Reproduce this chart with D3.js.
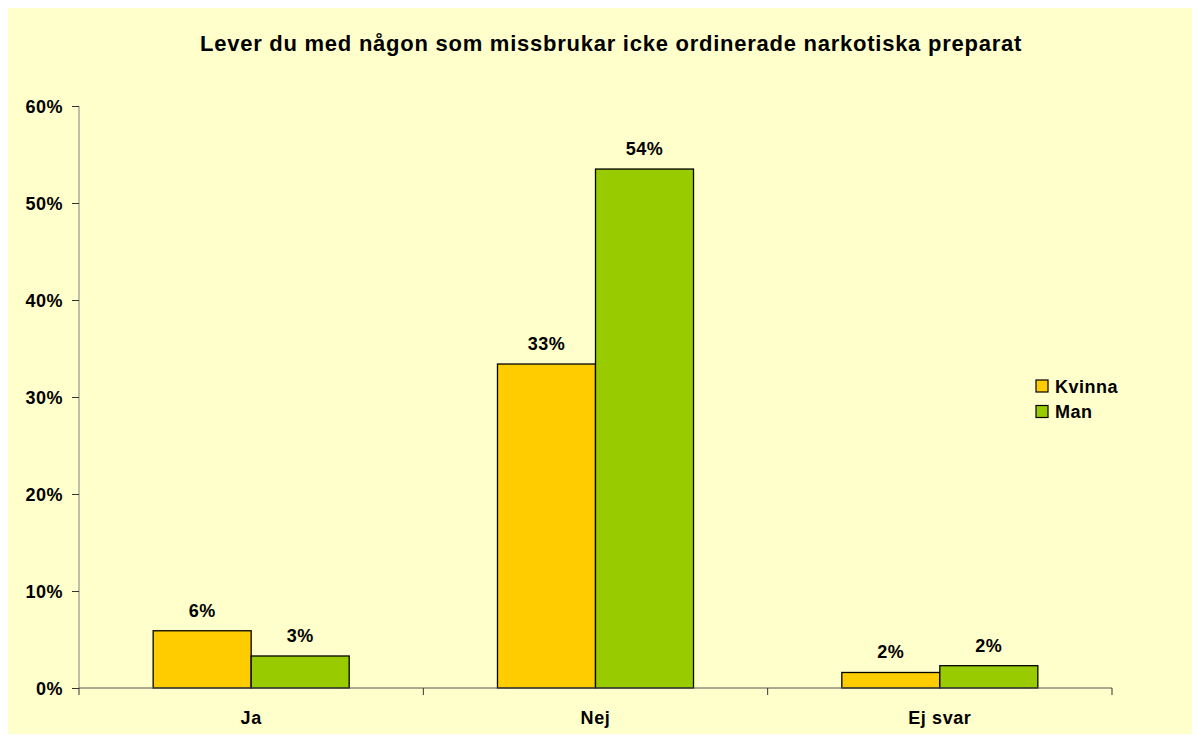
<!DOCTYPE html>
<html><head><meta charset="utf-8">
<script src="https://cdn.jsdelivr.net/npm/d3@7"></script>
<style>body{margin:0;background:#fff}svg{display:block}text{font-family:"Liberation Sans",Arial,sans-serif;font-weight:bold;fill:#000}</style>
</head><body>
<script>
const title = "Lever du med någon som missbrukar icke ordinerade narkotiska preparat";
const categories = ["Ja", "Nej", "Ej svar"];
const seriesNames = ["Kvinna", "Man"];
const kvinna = [5.9, 33.4, 1.6];
const man = [3.3, 53.5, 2.3];
const labelsKvinna = ["6%", "33%", "2%"];
const labelsMan = ["3%", "54%", "2%"];
const yTicks = [0, 10, 20, 30, 40, 50, 60];
const colors = ["#FFCC00", "#99CC00"];

(function () {
const W = 1200, H = 742;
const svg = d3.select("body").append("svg").attr("width", W).attr("height", H);
svg.append("rect").attr("x", 8).attr("y", 8).attr("width", 1184).attr("height", 726).attr("fill", "#FFFFCC");

const pLeft = 79, pRight = 1112, pTop = 106, pBottom = 688;
const x = d3.scaleBand().domain(categories).range([pLeft, pRight]).paddingInner(0).paddingOuter(0);
const y = d3.scaleLinear().domain([0, 60]).range([pBottom, pTop]);
const groupFrac = 196 / 344.3;
const x1 = d3.scaleBand().domain(seriesNames).range([0, x.bandwidth() * groupFrac]);
const groupOffset = x.bandwidth() * (1 - groupFrac) / 2;

svg.append("text").attr("x", 611).attr("y", 51).attr("text-anchor", "middle")
  .style("font-size", "22px").style("letter-spacing", "0.75px").text(title);

const yAxis = d3.axisLeft(y).tickValues(yTicks).tickSize(7).tickFormat(d => d + "%");
const gy = svg.append("g").attr("transform", `translate(${pLeft},0)`).call(yAxis);
gy.selectAll("line").attr("stroke", "#333");
gy.select(".domain").attr("stroke", "#808080").attr("d", `M0,${pTop}V${pBottom}`);
gy.selectAll("text").style("font-size", "18px").style("letter-spacing", "0.5px").attr("x", -16).attr("dy", "0.36em");

const data = categories.map((c, i) => ({cat: c, vals: [kvinna[i], man[i]], labels: [labelsKvinna[i], labelsMan[i]]}));

const groups = svg.selectAll("g.cat").data(data).join("g").attr("class", "cat")
  .attr("transform", d => `translate(${x(d.cat) + groupOffset},0)`);
groups.selectAll("rect").data(d => d.vals.map((v, j) => ({v, s: seriesNames[j], j})))
  .join("rect")
  .attr("x", d => x1(d.s)).attr("width", x1.bandwidth())
  .attr("y", d => y(d.v)).attr("height", d => pBottom - y(d.v))
  .attr("fill", d => colors[d.j]).attr("stroke", "#000").attr("stroke-width", 1.3);
groups.selectAll("text.lab").data(d => d.vals.map((v, j) => ({v, s: seriesNames[j], l: d.labels[j]})))
  .join("text").attr("class", "lab")
  .attr("x", d => x1(d.s) + x1.bandwidth() / 2).attr("y", d => y(d.v) - 14)
  .attr("text-anchor", "middle").style("font-size", "18px").style("letter-spacing", "0.5px").text(d => d.l);

const xAxis = d3.axisBottom(x).tickSize(0).tickFormat(d => d);
const gx = svg.append("g").attr("transform", `translate(0,${pBottom})`).call(xAxis);
gx.select(".domain").attr("stroke", "#555").attr("d", `M${pLeft},0H${pRight}`);
gx.selectAll("text").style("font-size", "18px").style("letter-spacing", "0.6px").attr("y", 36).attr("dy", "0");
const bounds = [pLeft, ...categories.map(c => x(c) + x.bandwidth())];
gx.selectAll("line.sep").data(bounds).join("line").attr("class", "sep")
  .attr("x1", d => d).attr("x2", d => d).attr("y1", 0).attr("y2", 7).attr("stroke", "#333");

const lg = svg.append("g").attr("transform", "translate(1036,380)");
seriesNames.forEach((s, i) => {
  lg.append("rect").attr("x", 0).attr("y", i * 25.5).attr("width", 12).attr("height", 12)
    .attr("fill", colors[i]).attr("stroke", "#000").attr("stroke-width", 1.2);
  lg.append("text").attr("x", 19).attr("y", i * 25.5 + 12.5).style("font-size", "18px").style("letter-spacing", "0.5px").text(s);
});
})();
</script>
</body></html>
